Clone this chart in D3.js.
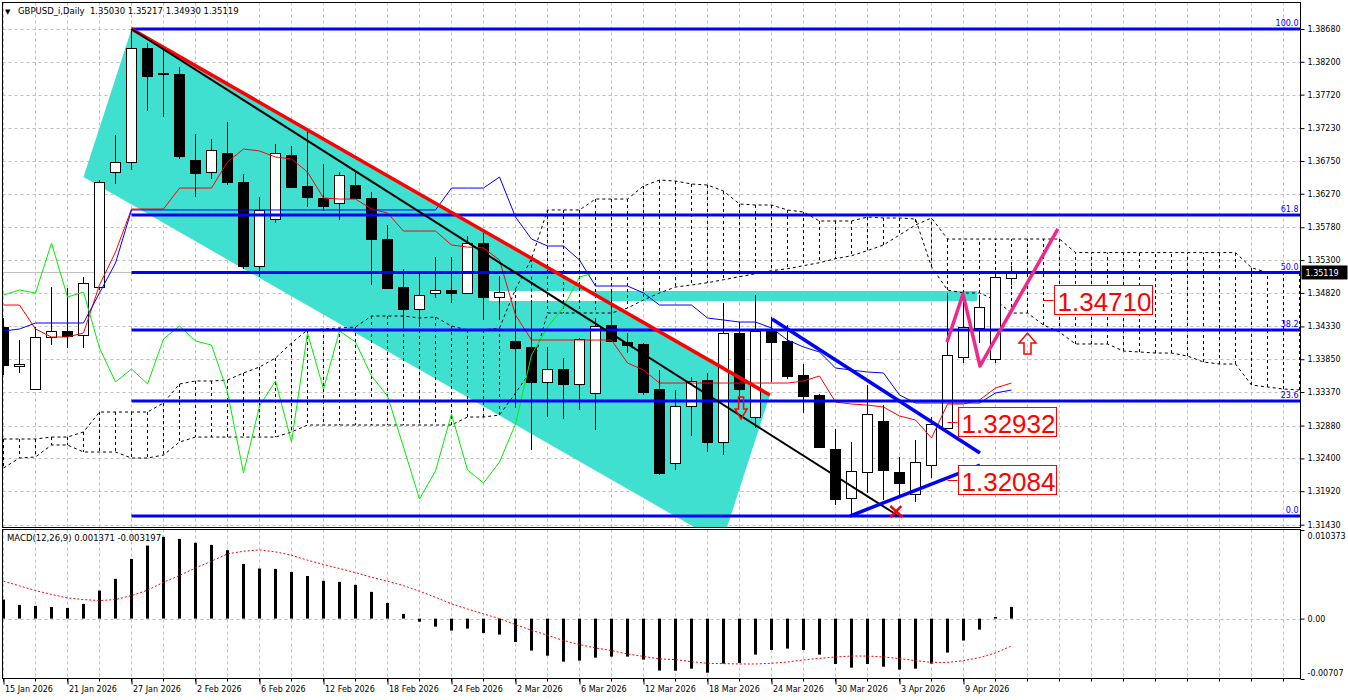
<!DOCTYPE html>
<html><head><meta charset="utf-8">
<script src="https://cdn.jsdelivr.net/npm/d3@7"></script>
<style>body{margin:0;background:#fff;}svg{display:block;}</style>
</head><body>
<svg id="chart" width="1348" height="700"></svg>
<script>
// ---------------- DATA ----------------
const symbolTitle = "GBPUSD_i,Daily";
const headerOHLC = "1.35030 1.35217 1.34930 1.35119";
const macdTitle = "MACD(12,26,9) 0.001371 -0.003197";
const dateLabels = ["15 Jan 2026","21 Jan 2026","27 Jan 2026","2 Feb 2026","6 Feb 2026","12 Feb 2026","18 Feb 2026","24 Feb 2026","2 Mar 2026","6 Mar 2026","12 Mar 2026","18 Mar 2026","24 Mar 2026","30 Mar 2026","3 Apr 2026","9 Apr 2026"];
const dateLabelBars = [0,4,8,12,16,20,24,28,32,36,40,44,48,52,56,60];
const priceTicks = [1.38680,1.38200,1.37720,1.37230,1.36750,1.36270,1.35780,1.35300,1.34820,1.34330,1.33850,1.33370,1.32880,1.32400,1.31920,1.31430];
const macdTicks = [0.010373, 0, -0.00707];
const macdTickLabels = ["0.010373","0.00","-0.00707"];

const opens  = [1.34321,1.33751,1.33415,1.34175,1.34263,1.34204,1.34906,1.36588,1.36735,1.38402,1.38036,1.38022,1.36764,1.36588,1.36866,1.36442,1.35214,1.35901,1.36837,1.36384,1.36208,1.36135,1.36398,1.36208,1.35609,1.34906,1.34585,1.34819,1.34863,1.34819,1.35550,1.34760,1.34117,1.34029,1.33517,1.33707,1.33488,1.33356,1.34350,1.34102,1.34073,1.33415,1.32332,1.33166,1.33546,1.32639,1.34234,1.33005,1.34263,1.34117,1.33619,1.33327,1.32537,1.31820,1.32201,1.32947,1.32201,1.31879,1.32303,1.32844,1.33883,1.34307,1.33853,1.35030];
const highs  = [1.34453,1.34131,1.34321,1.34906,1.34892,1.35053,1.36471,1.37130,1.38680,1.38475,1.38417,1.38124,1.37144,1.37071,1.37320,1.36559,1.36223,1.36998,1.36969,1.37203,1.36705,1.36588,1.36588,1.36296,1.35813,1.35170,1.35111,1.35345,1.35345,1.35652,1.35696,1.35067,1.34687,1.34716,1.34029,1.33868,1.34161,1.34453,1.34863,1.34234,1.34088,1.33693,1.33400,1.33590,1.33649,1.34672,1.34395,1.34790,1.34468,1.34350,1.33780,1.33342,1.32830,1.32639,1.33473,1.33181,1.32420,1.32669,1.33005,1.34819,1.34819,1.34790,1.35067,1.35217];
const lows   = [1.33619,1.33649,1.33400,1.34058,1.34014,1.34014,1.34863,1.36413,1.36618,1.37481,1.37393,1.36779,1.36223,1.36486,1.36398,1.35170,1.35053,1.35843,1.36354,1.36077,1.36018,1.35886,1.36194,1.34936,1.34877,1.34307,1.34321,1.34746,1.34672,1.34804,1.34424,1.34424,1.33137,1.32522,1.33005,1.32976,1.33107,1.32815,1.34102,1.33941,1.33327,1.32157,1.32230,1.32727,1.32493,1.32449,1.33254,1.32844,1.33517,1.33561,1.33064,1.32552,1.31718,1.31557,1.31894,1.31791,1.31864,1.31762,1.32113,1.32830,1.33795,1.34087,1.33795,1.34930];
const closes = [1.33766,1.33780,1.34175,1.34263,1.34190,1.34965,1.36442,1.36735,1.38402,1.37993,1.38022,1.36822,1.36574,1.36910,1.36442,1.35214,1.36033,1.36866,1.36369,1.36223,1.36091,1.36545,1.36208,1.35609,1.34892,1.34585,1.34790,1.34863,1.34819,1.35550,1.34760,1.34833,1.34014,1.33517,1.33707,1.33488,1.34146,1.34336,1.34117,1.34058,1.33371,1.32186,1.33166,1.33532,1.32639,1.34234,1.33415,1.34263,1.34102,1.33605,1.33312,1.32566,1.31806,1.32215,1.33049,1.32230,1.32040,1.32347,1.32903,1.33912,1.34321,1.34614,1.35053,1.35119];

// Ichimoku (9,26,52)
const tenkan = [1.34643,1.34643,1.34292,1.34175,1.34175,1.34234,1.34936,1.35418,1.36047,1.36047,1.36047,1.36354,1.36354,1.36354,1.36735,1.36925,1.36896,1.36808,1.36779,1.36588,1.36208,1.36193,1.36193,1.36047,1.35989,1.35725,1.35725,1.35725,1.35521,1.35491,1.35477,1.35301,1.34497,1.34131,1.34131,1.34131,1.34131,1.34131,1.34131,1.33795,1.33692,1.33502,1.33502,1.33502,1.33502,1.33502,1.33502,1.33502,1.33502,1.33502,1.33532,1.33605,1.33224,1.33195,1.33180,1.33151,1.33020,1.32961,1.32698,1.33195,1.33195,1.33254,1.33429,1.33502];
const kijun = [1.34263,1.34292,1.34380,1.34380,1.34380,1.34380,1.34819,1.35257,1.36033,1.36033,1.36033,1.36033,1.36033,1.36033,1.36033,1.36033,1.36033,1.36033,1.36033,1.36033,1.36033,1.36033,1.36033,1.36033,1.36033,1.36033,1.36033,1.36033,1.36354,1.36354,1.36354,1.36515,1.35930,1.35608,1.35506,1.35506,1.35301,1.34921,1.34921,1.34921,1.34819,1.34643,1.34643,1.34643,1.34453,1.34424,1.34394,1.34394,1.34307,1.34131,1.34029,1.33956,1.33722,1.33692,1.33663,1.33649,1.33327,1.33210,1.33210,1.33210,1.33210,1.33210,1.33356,1.33400];
const chikouShift = 26;
const senkouA = [1.32683,1.32683,1.32683,1.32712,1.32712,1.32786,1.33078,1.33078,1.33078,1.33078,1.33210,1.33488,1.33532,1.33532,1.33546,1.33649,1.33736,1.33868,1.34087,1.34278,1.34292,1.34307,1.34321,1.34482,1.34482,1.34482,1.34453,1.34467,1.34336,1.34278,1.34278,1.34307,1.34877,1.35320,1.36033,1.36033,1.36033,1.36193,1.36193,1.36193,1.36384,1.36471,1.36457,1.36413,1.36398,1.36310,1.36120,1.36106,1.36106,1.36033,1.36003,1.35872,1.35872,1.35872,1.35930,1.35916,1.35916,1.35901,1.35203,1.34862,1.34819,1.34819,1.34716,1.34526,1.34526,1.34350,1.34248,1.34073,1.34073,1.34073,1.33970,1.33956,1.33941,1.33941,1.33897,1.33809,1.33780,1.33780,1.33473,1.33444,1.33414,1.33400];
const senkouB = [1.32259,1.32405,1.32420,1.32596,1.32596,1.32493,1.32493,1.32493,1.32405,1.32405,1.32449,1.32639,1.32712,1.32712,1.32712,1.32712,1.32712,1.32712,1.32786,1.32888,1.32888,1.32888,1.32888,1.32888,1.32888,1.32888,1.32888,1.32888,1.32888,1.33005,1.33005,1.33034,1.33356,1.33692,1.34526,1.34526,1.34526,1.34526,1.34526,1.34599,1.34716,1.34819,1.34906,1.34936,1.34969,1.35013,1.35057,1.35101,1.35145,1.35174,1.35218,1.35262,1.35320,1.35364,1.35439,1.35521,1.35667,1.35813,1.35916,1.35608,1.35608,1.35608,1.35608,1.35608,1.35608,1.35608,1.35608,1.35410,1.35410,1.35410,1.35410,1.35410,1.35410,1.35410,1.35410,1.35410,1.35410,1.35410,1.35189,1.35116,1.35116,1.35116];

// MACD
const macdMain = [0.00223,0.00160,0.00149,0.00136,0.00125,0.00172,0.00328,0.00465,0.00699,0.00855,0.00957,0.00933,0.00887,0.00863,0.00801,0.00640,0.00586,0.00582,0.00547,0.00499,0.00442,0.00430,0.00395,0.00313,0.00183,0.00055,-0.00036,-0.00094,-0.00140,-0.00117,-0.00168,-0.00187,-0.00274,-0.00374,-0.00434,-0.00504,-0.00492,-0.00457,-0.00445,-0.00445,-0.00480,-0.00608,-0.00610,-0.00586,-0.00633,-0.00527,-0.00519,-0.00421,-0.00367,-0.00351,-0.00367,-0.00421,-0.00531,-0.00574,-0.00531,-0.00563,-0.00597,-0.00586,-0.00527,-0.00398,-0.00257,-0.00129,0.00019,0.001371];
const macdSignal = [0.00438,0.00384,0.00328,0.00283,0.00242,0.00223,0.00211,0.00223,0.00270,0.00332,0.00425,0.00504,0.00593,0.00672,0.00758,0.00789,0.00804,0.00781,0.00742,0.00684,0.00633,0.00586,0.00539,0.00484,0.00438,0.00387,0.00321,0.00250,0.00172,0.00113,0.00055,0.00000,-0.00070,-0.00136,-0.00195,-0.00257,-0.00304,-0.00344,-0.00374,-0.00414,-0.00442,-0.00472,-0.00480,-0.00504,-0.00523,-0.00527,-0.00531,-0.00531,-0.00523,-0.00508,-0.00484,-0.00465,-0.00449,-0.00438,-0.00438,-0.00449,-0.00468,-0.00492,-0.00512,-0.00512,-0.00492,-0.00457,-0.00402,-0.003197];

// Fibonacci retracement
const fibStartBar = 8;
const fibHigh = 1.38680, fibLow = 1.31557;
const fibLevels = [0, 0.236, 0.382, 0.5, 0.618, 1.0];
const fibLabels = ["0.0","23.6","38.2","50.0","61.8","100.0"];

// drawn objects: [bar, price]
const channelFill = [[8,1.38680],[47.9,1.33327],[44.9,1.31162],[5.0,1.36515]];
const cyanBand = [[30.34,1.34848],[60.84,1.34702]];
const redTrend = [[8,1.38680],[47.9,1.33327]];
const blackTrend = [[8,1.38680],[55.84,1.31572]];
const blueUpper = [[48.03,1.34438],[61.03,1.32478]];
const blueLower = [[52.9,1.31557],[61.03,1.32303]];
const pinkZigzag = [[58.97,1.34102],[59.97,1.34804],[61.03,1.33751],[65.9,1.35755]];
const priceLabels = [{bar:65,price:1.34710,text:"1.34710"},{bar:59,price:1.32932,text:"1.32932"},{bar:59,price:1.32084,text:"1.32084"}];
const downArrow = {bar:46.1, price:1.33298};
const upArrow = {bar:64.0, price:1.33926};
const crossMark = {bar:55.8, price:1.31630};

// ---------------- LAYOUT ----------------
const FONT = '"DejaVu Sans", Tahoma, sans-serif';
const L = 2.5, R = 1300.5, T = 2.5, MB = 527.5, ST = 529.5, SB = 678.5;
const nVisible = 82;
const x = d3.scaleLinear().domain([0, 1]).range([3.5, 19.5]);
const y = d3.scaleLinear().domain([1.31430, 1.38680]).range([524.7, 29]);
const ym = d3.scaleLinear().domain([-0.00707, 0.010373]).range([679, 530]);
const P = d => [x(d[0]), y(d[1])];
const cyan = "#40e0d0";

const svg = d3.select("#chart");
svg.append("rect").attr("width",1348).attr("height",700).attr("fill","#fff");
const defs = svg.append("defs");
defs.append("clipPath").attr("id","clipMain").append("rect").attr("x",L).attr("y",T).attr("width",R-L).attr("height",MB-T);
defs.append("clipPath").attr("id","clipMacd").append("rect").attr("x",L).attr("y",ST).attr("width",R-L).attr("height",SB-ST);
defs.append("clipPath").attr("id","clipChan").append("polygon").attr("points", channelFill.map(P).join(" "));

const gMain = svg.append("g").attr("clip-path","url(#clipMain)");
const gridBars = d3.range(0, nVisible, 2);
gMain.selectAll("line.vg").data(gridBars).join("line").attr("class","vg")
  .attr("x1",d=>x(d)).attr("x2",d=>x(d)).attr("y1",T).attr("y2",MB)
  .attr("stroke","#c0c0c0").attr("stroke-dasharray","3,3");
gMain.selectAll("line.hg").data(priceTicks).join("line").attr("class","hg")
  .attr("x1",L).attr("x2",R).attr("y1",d=>Math.round(y(d))+0.5).attr("y2",d=>Math.round(y(d))+0.5)
  .attr("stroke","#c0c0c0").attr("stroke-dasharray","3,3");

// cyan channel + band (MT4 XOR look)
gMain.append("polygon").attr("points", channelFill.map(P).join(" ")).attr("fill",cyan);
const bx0 = x(cyanBand[0][0]), bx1 = x(cyanBand[1][0]), by0 = y(cyanBand[0][1]), by1 = y(cyanBand[1][1]);
gMain.append("rect").attr("x",bx0).attr("y",by0).attr("width",bx1-bx0).attr("height",by1-by0).attr("fill",cyan);
gMain.append("g").attr("clip-path","url(#clipChan)").append("rect")
  .attr("x",bx0).attr("y",by0).attr("width",bx1-bx0).attr("height",by1-by0).attr("fill","#fff");

// cloud
const cloudBars = d3.range(senkouA.length);
gMain.selectAll("line.hatch").data(cloudBars).join("line").attr("class","hatch")
  .attr("x1",i=>x(i)).attr("x2",i=>x(i)).attr("y1",i=>y(senkouA[i])).attr("y2",i=>y(senkouB[i]))
  .attr("stroke","#000").attr("stroke-dasharray","3,3");
const lineGen = d3.line().x((d,i)=>x(i)).y(d=>y(d));
[senkouA, senkouB].forEach(s => gMain.append("path").attr("d", lineGen(s))
  .attr("fill","none").attr("stroke","#000").attr("stroke-dasharray","3,3"));

// bid line
const bidY = Math.round(y(closes[closes.length-1]))+0.5;
gMain.append("line").attr("x1",L).attr("x2",R).attr("y1",bidY).attr("y2",bidY).attr("stroke","#c0c0c0");

// candles
const bars = d3.range(opens.length);
gMain.selectAll("line.wick").data(bars).join("line").attr("class","wick")
  .attr("x1",i=>x(i)).attr("x2",i=>x(i)).attr("y1",i=>y(highs[i])).attr("y2",i=>y(lows[i])).attr("stroke","#000");
gMain.selectAll("rect.body").data(bars).join("rect").attr("class","body")
  .attr("x",i=>x(i)-5).attr("width",10)
  .attr("y",i=>Math.round(y(Math.max(opens[i],closes[i])))+0.5)
  .attr("height",i=>Math.max(1,Math.round(Math.abs(y(opens[i])-y(closes[i])))))
  .attr("fill",i=>closes[i]>=opens[i]?"#fff":"#000").attr("stroke","#000");

// ichimoku lines
gMain.append("path").attr("d", lineGen(tenkan)).attr("fill","none").attr("stroke","#ff0000");
gMain.append("path").attr("d", lineGen(kijun)).attr("fill","none").attr("stroke","#0000ff");
gMain.append("path").attr("d", lineGen(closes.slice(chikouShift))).attr("fill","none").attr("stroke","#00ee00");

// fibonacci
const fibPrice = r => fibLow + r*(fibHigh-fibLow);
gMain.selectAll("line.fib").data(fibLevels).join("line").attr("class","fib")
  .attr("x1",x(fibStartBar)).attr("x2",R).attr("y1",r=>y(fibPrice(r))).attr("y2",r=>y(fibPrice(r)))
  .attr("stroke","#0000ff").attr("stroke-width",3);
gMain.selectAll("text.fibl").data(fibLevels).join("text").attr("class","fibl")
  .attr("x",R-2).attr("y",r=>y(fibPrice(r))-3).attr("text-anchor","end")
  .attr("font-family",FONT).attr("font-size",8).attr("fill","#0000ff")
  .text((r,i)=>fibLabels[i]);

// trend lines
const seg = (pts, color, w) => gMain.append("path").attr("d", d3.line()(pts.map(P)))
  .attr("fill","none").attr("stroke",color).attr("stroke-width",w).attr("stroke-linejoin","round");
seg(redTrend, "#ff0000", 3.5);
seg(blackTrend, "#000000", 2);
seg(blueUpper, "#0000ff", 3.5);
seg(blueLower, "#0000ff", 3.5);
seg(pinkZigzag, "#f0288c", 3.5);

// arrows
function arrow(a, dir, sh, hh, len, head) {
  const cx = x(a.bar), ty = y(a.price);
  const s = dir === "down" ? 1 : -1;
  const pts = [[cx-sh,ty],[cx+sh,ty],[cx+sh,ty+s*(len-head)],[cx+hh,ty+s*(len-head)],[cx,ty+s*len],[cx-hh,ty+s*(len-head)],[cx-sh,ty+s*(len-head)]];
  gMain.append("polygon").attr("points", pts.join(" ")).attr("fill","none").attr("stroke","#ff0000").attr("stroke-width",1.5);
}
arrow(downArrow, "down", 2.5, 6, 22, 10);
arrow(upArrow, "up", 3.5, 8.5, 21, 10);
{
  const cx = x(crossMark.bar), cy = y(crossMark.price);
  gMain.append("path").attr("d",`M${cx-6},${cy-5}L${cx+6},${cy+6}M${cx-6},${cy+6}L${cx+5},${cy-5}`)
    .attr("stroke","#ff0000").attr("stroke-width",2.5).attr("fill","none");
}

// price label boxes
priceLabels.forEach(pl => {
  const ax = x(pl.bar), ay = Math.round(y(pl.price))+0.5;
  gMain.append("line").attr("x1",ax).attr("x2",ax+10).attr("y1",ay).attr("y2",ay).attr("stroke","#ff0000");
  gMain.append("rect").attr("x",Math.round(ax+10)+0.5).attr("y",ay-15).attr("width",98).attr("height",29)
    .attr("fill","#fff").attr("stroke","#ff0000");
  gMain.append("text").attr("x",ax+14).attr("y",ay+10).attr("font-family","'Liberation Sans', Arial, sans-serif")
    .attr("font-size",26).attr("fill","#ff0000").text(pl.text);
});

// ---------------- MACD ----------------
const gM = svg.append("g").attr("clip-path","url(#clipMacd)");
gM.selectAll("line.vg").data(gridBars).join("line").attr("class","vg")
  .attr("x1",d=>x(d)).attr("x2",d=>x(d)).attr("y1",ST).attr("y2",SB)
  .attr("stroke","#c0c0c0").attr("stroke-dasharray","3,3");
gM.append("line").attr("x1",L).attr("x2",R).attr("y1",Math.round(ym(0))+0.5).attr("y2",Math.round(ym(0))+0.5)
  .attr("stroke","#c0c0c0").attr("stroke-dasharray","3,3");
gM.selectAll("rect.mh").data(macdMain).join("rect").attr("class","mh")
  .attr("x",(d,i)=>x(i)-1.5).attr("width",3)
  .attr("y",d=>Math.min(ym(d),ym(0))).attr("height",d=>Math.abs(ym(d)-ym(0)))
  .attr("fill","#000");
gM.append("path").attr("d", d3.line().x((d,i)=>x(i)).y(d=>ym(d))(macdSignal))
  .attr("fill","none").attr("stroke","#ff0000").attr("stroke-dasharray","2,2");

// ---------------- AXES / FRAME ----------------
const gAx = svg.append("g").attr("transform",`translate(${R},0)`)
  .call(d3.axisRight(y).tickValues(priceTicks).tickFormat(d3.format(".5f")).tickSize(4).tickPadding(3));
gAx.select(".domain").remove();
gAx.attr("font-family",FONT).attr("font-size",8);

const gAxM = svg.append("g").attr("transform",`translate(${R},0)`)
  .call(d3.axisRight(ym).tickValues(macdTicks).tickFormat((d,i)=>macdTickLabels[i]).tickSize(4).tickPadding(3));
gAxM.select(".domain").remove();
gAxM.attr("font-family",FONT).attr("font-size",8);
gAxM.selectAll(".tick text").attr("dy",(d,i)=> i===0 ? "1.1em" : (i===2 ? "-0.45em" : "0.32em"));

const gAxX = svg.append("g").attr("transform",`translate(0,${SB})`)
  .call(d3.axisBottom(x).tickValues(dateLabelBars).tickFormat((d,i)=>dateLabels[i]).tickSize(6).tickPadding(3));
gAxX.select(".domain").remove();
gAxX.attr("font-family",FONT).attr("font-size",8);
gAxX.selectAll(".tick text").attr("text-anchor","start").attr("x",1).attr("y",8).attr("dy","0.71em");
svg.append("g").selectAll("line").data(gridBars).join("line")
  .attr("x1",d=>x(d)).attr("x2",d=>x(d)).attr("y1",SB).attr("y2",SB+3).attr("stroke","#000");

// current price marker
{
  const cp = closes[closes.length-1], cy = y(cp);
  svg.append("rect").attr("x",R+1).attr("y",cy-7).attr("width",46).attr("height",14).attr("fill","#000");
  svg.append("text").attr("x",R+5).attr("y",cy+3.5).attr("font-family",FONT).attr("font-size",8)
    .attr("fill","#fff").text(d3.format(".5f")(cp));
}

// frame
const frame = svg.append("g").attr("fill","none").attr("stroke","#000");
frame.append("rect").attr("x",L).attr("y",T).attr("width",R-L).attr("height",MB-T);
frame.append("rect").attr("x",L).attr("y",ST).attr("width",R-L).attr("height",SB-ST);

// titles
svg.append("text").attr("x",5).attr("y",14).attr("font-family",FONT).attr("font-size",7).text("▼");
svg.append("text").attr("x",18).attr("y",14).attr("font-family",FONT).attr("font-size",8.5).attr("xml:space","preserve")
  .text(symbolTitle + "  " + headerOHLC);
svg.append("text").attr("x",7).attr("y",541).attr("font-family",FONT).attr("font-size",8.5)
  .text(macdTitle);
</script>
</body></html>
